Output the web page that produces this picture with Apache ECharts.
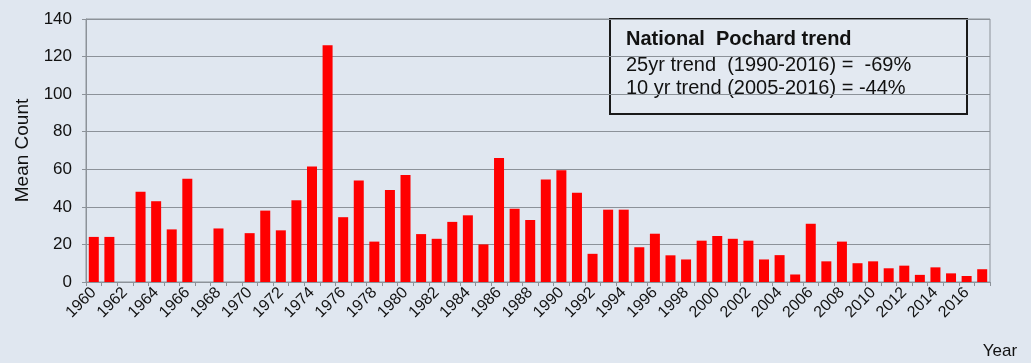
<!DOCTYPE html>
<html>
<head>
<meta charset="utf-8">
<script src="https://cdn.jsdelivr.net/npm/echarts@6/dist/echarts.min.js"></script>
<style>
  html, body { margin: 0; padding: 0; background: #e0e7f0; }
  #chart { width: 1031px; height: 363px; }
</style>
</head>
<body>
<div id="chart"></div>
<script>
// Years 1960-2017
const years = [];
for (let y = 1960; y <= 2017; y++) years.push(String(y));

// Mean annual count of Pochard
const meanCount = [
  24, 24, 0, 48, 43, 28, 55, 0, 28.5, 0,
  26, 38, 27.5, 43.5, 61.5, 126, 34.5, 54, 21.5, 49,
  57, 25.5, 23, 32, 35.5, 20, 66, 39, 33, 54.5,
  59.5, 47.5, 15, 38.5, 38.5, 18.5, 25.7, 14.2, 12, 22,
  24.5, 23, 22, 12, 14.3, 4, 31, 11, 21.5, 10,
  11, 7.3, 8.7, 3.8, 7.8, 4.6, 3.2, 6.8
];

const yTicks = [0, 20, 40, 60, 80, 100, 120, 140];

const trendTitle = 'National  Pochard trend';
const trendLines = [
  '25yr trend  (1990-2016) =  -69%',
  '10 yr trend (2005-2016) = -44%'
];

const font = '"Liberation Sans", Arial, sans-serif';
const chart = echarts.init(document.getElementById('chart'));

chart.setOption({
  backgroundColor: '#e0e7f0',
  animation: false,
  grid: {
    left: 86, right: 41, top: 19, bottom: 81,
    show: true, borderColor: '#8c9299', borderWidth: 1,
    backgroundColor: 'transparent'
  },
  xAxis: {
    type: 'category',
    data: years,
    boundaryGap: true,
    axisLine: { show: true, lineStyle: { color: '#8c9299', width: 1 } },
    axisTick: { show: true, interval: 0, length: 4, lineStyle: { color: '#8c9299' } },
    axisLabel: {
      interval: 1, rotate: 45, fontFamily: font, fontSize: 16,
      color: '#111', margin: 8
    },
    name: 'Year',
    nameLocation: 'end',
    nameGap: 0,
    nameTextStyle: {
      fontFamily: font, fontSize: 17, color: '#111',
      align: 'center', verticalAlign: 'top', padding: [61, 0, 0, 20]
    }
  },
  yAxis: {
    type: 'value',
    min: yTicks[0], max: yTicks[yTicks.length - 1], interval: 20,
    axisLine: { show: true, lineStyle: { color: '#8c9299', width: 1 } },
    axisTick: { show: true, length: 4, lineStyle: { color: '#8c9299' } },
    splitLine: { show: true, lineStyle: { color: '#8c9299', width: 1 } },
    axisLabel: { fontFamily: font, fontSize: 17, color: '#111', margin: 14 },
    name: 'Mean Count',
    nameLocation: 'middle',
    nameGap: 54,
    nameTextStyle: { fontFamily: font, fontSize: 19, color: '#111' }
  },
  series: [{
    type: 'bar',
    data: meanCount,
    barWidth: 10,
    itemStyle: { color: '#ff0000' }
  }],
  graphic: [{
    type: 'group',
    left: 609, top: 18,
    children: [
      {
        type: 'rect',
        shape: { x: 0, y: 0, width: 357, height: 95 },
        style: { fill: '#e3e9f1', stroke: '#1a1a1a', lineWidth: 2 }
      },
      {
        type: 'text', x: 16, y: 10,
        style: { text: trendTitle, font: 'bold 20px ' + font, fill: '#111' }
      },
      {
        type: 'text', x: 16, y: 36,
        style: { text: trendLines[0], font: '20px ' + font, fill: '#111' }
      },
      {
        type: 'text', x: 16, y: 59,
        style: { text: trendLines[1], font: '20px ' + font, fill: '#111' }
      }
    ]
  }]
});
</script>
</body>
</html>
